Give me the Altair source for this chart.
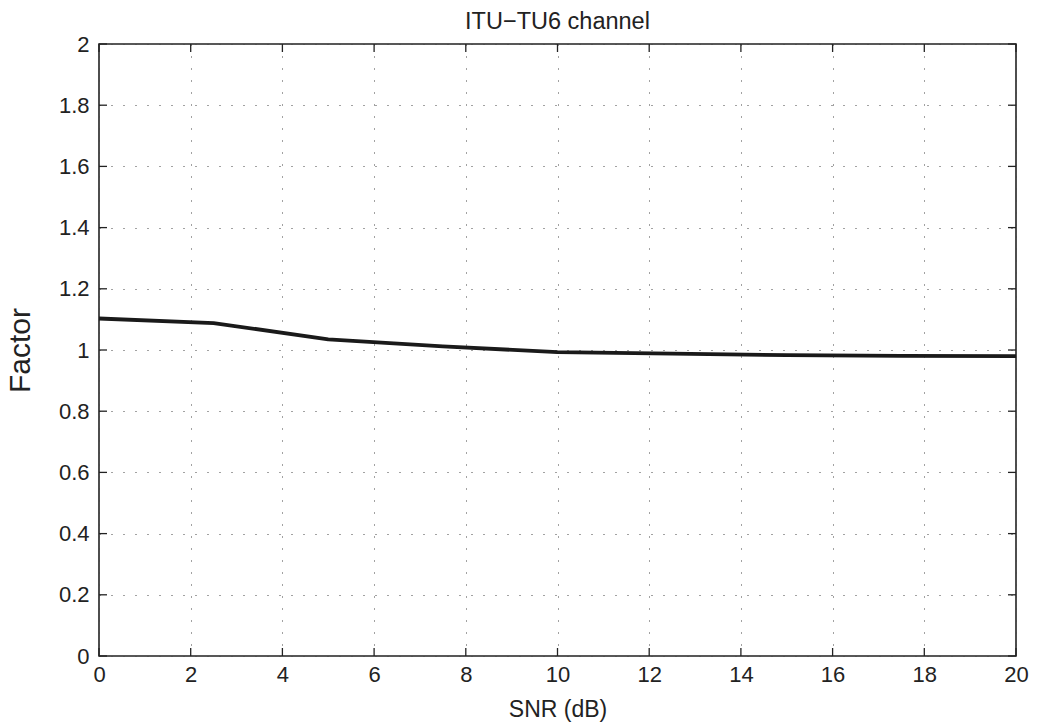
import altair as alt
import pandas as pd

# Data
snr_db = [0, 2.5, 5, 7.5, 10, 12.5, 15, 17.5, 20]
factor = [1.103, 1.088, 1.035, 1.012, 0.993, 0.988, 0.983, 0.981, 0.980]
x_ticks = [0, 2, 4, 6, 8, 10, 12, 14, 16, 18, 20]
y_ticks = [0, 0.2, 0.4, 0.6, 0.8, 1.0, 1.2, 1.4, 1.6, 1.8, 2.0]

W, H = 917, 612
XMAX, YMAX = 20, 2
TL = 8  # inner tick length in px
tlx = TL * XMAX / W
tly = TL * YMAX / H

df = pd.DataFrame({"snr": snr_db, "factor": factor})

xs = alt.Scale(domain=[0, XMAX], nice=False, zero=False)
ys = alt.Scale(domain=[0, YMAX], nice=False, zero=False)

font = "Liberation Sans"

x_axis = alt.Axis(values=x_ticks, title="SNR (dB)", grid=True, gridDash=[1, 11],
                  gridColor="#444", gridWidth=1, ticks=False, domain=False,
                  labelFontSize=22, labelPadding=8, labelColor="#222",
                  titleFontSize=23, titleFontWeight="normal", titlePadding=13,
                  titleColor="#222", labelFont=font, titleFont=font,
                  labelFlush=False, format="d")
y_axis = alt.Axis(values=y_ticks, title="Factor", grid=True, gridDash=[1, 11],
                  gridColor="#444", gridWidth=1, ticks=False, domain=False,
                  labelFontSize=22, labelPadding=10, labelColor="#222",
                  titleFontSize=30, titleFontWeight="normal", titlePadding=23,
                  titleColor="#222", labelFont=font, titleFont=font,
                  labelFlush=False,
                  labelExpr="datum.value == 1 ? '1' : datum.value == 0 ? '0' : datum.value == 2 ? '2' : format(datum.value, '.1f')")

line = alt.Chart(df).mark_line(color="#1a1a1a", strokeWidth=3.8, strokeJoin="round").encode(
    x=alt.X("snr:Q", scale=xs, axis=x_axis),
    y=alt.Y("factor:Q", scale=ys, axis=y_axis),
)

xt = pd.DataFrame({"v": x_ticks})
yt = pd.DataFrame({"v": y_ticks})
tick_style = dict(color="#222", strokeWidth=1.3)

bottom = alt.Chart(xt).transform_calculate(a="0", b=f"{tly}").mark_rule(**tick_style).encode(
    x=alt.X("v:Q", scale=xs), y=alt.Y("a:Q", scale=ys), y2="b:Q")
top = alt.Chart(xt).transform_calculate(a=f"{YMAX}", b=f"{YMAX - tly}").mark_rule(**tick_style).encode(
    x=alt.X("v:Q", scale=xs), y=alt.Y("a:Q", scale=ys), y2="b:Q")
left = alt.Chart(yt).transform_calculate(a="0", b=f"{tlx}").mark_rule(**tick_style).encode(
    y=alt.Y("v:Q", scale=ys), x=alt.X("a:Q", scale=xs), x2="b:Q")
right = alt.Chart(yt).transform_calculate(a=f"{XMAX}", b=f"{XMAX - tlx}").mark_rule(**tick_style).encode(
    y=alt.Y("v:Q", scale=ys), x=alt.X("a:Q", scale=xs), x2="b:Q")

chart = alt.layer(line, bottom, top, left, right).properties(
    width=W, height=H,
    title=alt.TitleParams("ITU\u2212TU6 channel", fontSize=23.5, font=font,
                          fontWeight="normal", color="#222", offset=0),
    autosize=alt.AutoSizeParams(type="none"),
    padding={"left": 99, "top": 44, "right": 21, "bottom": 67},
    background="white",
).configure_view(stroke="#222", strokeWidth=1.6)

chart.save("out.html", embed_options={"renderer": "svg", "actions": False})
